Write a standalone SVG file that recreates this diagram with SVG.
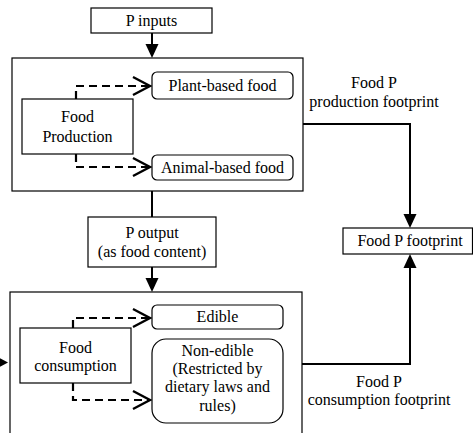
<svg xmlns="http://www.w3.org/2000/svg" width="473" height="433" viewBox="0 0 473 433">
<style>
.box{fill:#fff;stroke:#000;stroke-width:1.2}
.t{font-family:"Liberation Serif","Times New Roman",serif;font-size:16px;fill:#000;text-anchor:middle}
.solid{fill:none;stroke:#000;stroke-width:2}
.dash{fill:none;stroke:#000;stroke-width:2.2;stroke-dasharray:8,5}
</style>
<defs>
<marker id="fa" markerUnits="userSpaceOnUse" markerWidth="16" markerHeight="16" refX="4" refY="6.5" orient="auto" overflow="visible">
<path d="M0,0 L14,6.5 L0,13 Z" fill="#000"/>
</marker>
<marker id="oa" markerUnits="userSpaceOnUse" markerWidth="20" markerHeight="20" refX="17" refY="9" orient="auto" overflow="visible">
<path d="M0,0 L17,9 L0,18" fill="none" stroke="#000" stroke-width="2.4"/>
</marker>
</defs>
<rect x="10" y="292" width="292" height="150" class="box"/>
<rect x="12" y="58" width="291" height="133" class="box"/>
<g id="connectors">
<path d="M152,33 V48" class="solid" marker-end="url(#fa)"/>
<path d="M152,191 V217" class="solid"/>
<path d="M152,267 V282" class="solid" marker-end="url(#fa)"/>
<path d="M303,124 H410 V218" class="solid" marker-end="url(#fa)"/>
<path d="M302,364 H410 V264" class="solid" marker-end="url(#fa)"/>
<path d="M76,99 V86 H150" class="dash" marker-end="url(#oa)"/>
<path d="M76,154 V167 H150" class="dash" marker-end="url(#oa)"/>
<path d="M73,328 V318 H150" class="dash" marker-end="url(#oa)"/>
<path d="M73,383 V400 H150" class="dash" marker-end="url(#oa)"/>
<path d="M-6,355 L8,362.5 L-6,370 Z" fill="#000"/>
</g>
<g id="p-inputs">
<rect x="91" y="8" width="121" height="25" class="box"/>
<text x="151.5" y="26" class="t">P inputs</text>
</g>
<g id="food-production">
<rect x="22" y="99" width="111" height="55" class="box"/>
<text x="77.5" y="122" class="t">Food</text>
<text x="77.5" y="142" class="t">Production</text>
</g>
<g id="plant-based">
<rect x="152" y="72" width="141" height="27" rx="5" class="box"/>
<text x="222.5" y="91" class="t">Plant-based food</text>
</g>
<g id="animal-based">
<rect x="152" y="155" width="141" height="25" rx="5" class="box"/>
<text x="222.5" y="173" class="t">Animal-based food</text>
</g>
<g id="p-output">
<rect x="88" y="217" width="128" height="50" class="box"/>
<text x="152" y="238" class="t">P output</text>
<text x="152" y="257" class="t">(as food content)</text>
</g>
<g id="food-consumption">
<rect x="20" y="328" width="111" height="55" class="box"/>
<text x="75.5" y="353" class="t">Food</text>
<text x="75.5" y="371" class="t">consumption</text>
</g>
<g id="edible">
<rect x="152" y="305" width="131" height="24" rx="5" class="box"/>
<text x="217.5" y="322" class="t">Edible</text>
</g>
<g id="non-edible">
<rect x="152" y="339" width="131" height="84" rx="14" class="box"/>
<text x="217.5" y="356" class="t">Non-edible</text>
<text x="217.5" y="374" class="t">(Restricted by</text>
<text x="217.5" y="392" class="t">dietary laws and</text>
<text x="217.5" y="411" class="t">rules)</text>
</g>
<g id="food-p-footprint">
<rect x="343" y="228" width="129.5" height="26" class="box"/>
<text x="410" y="246" class="t">Food P footprint</text>
</g>
<g id="labels">
<text x="374" y="88" class="t">Food P</text>
<text x="374" y="107" class="t">production footprint</text>
<text x="379" y="387" class="t">Food P</text>
<text x="379" y="405" class="t">consumption footprint</text>
</g>
</svg>
